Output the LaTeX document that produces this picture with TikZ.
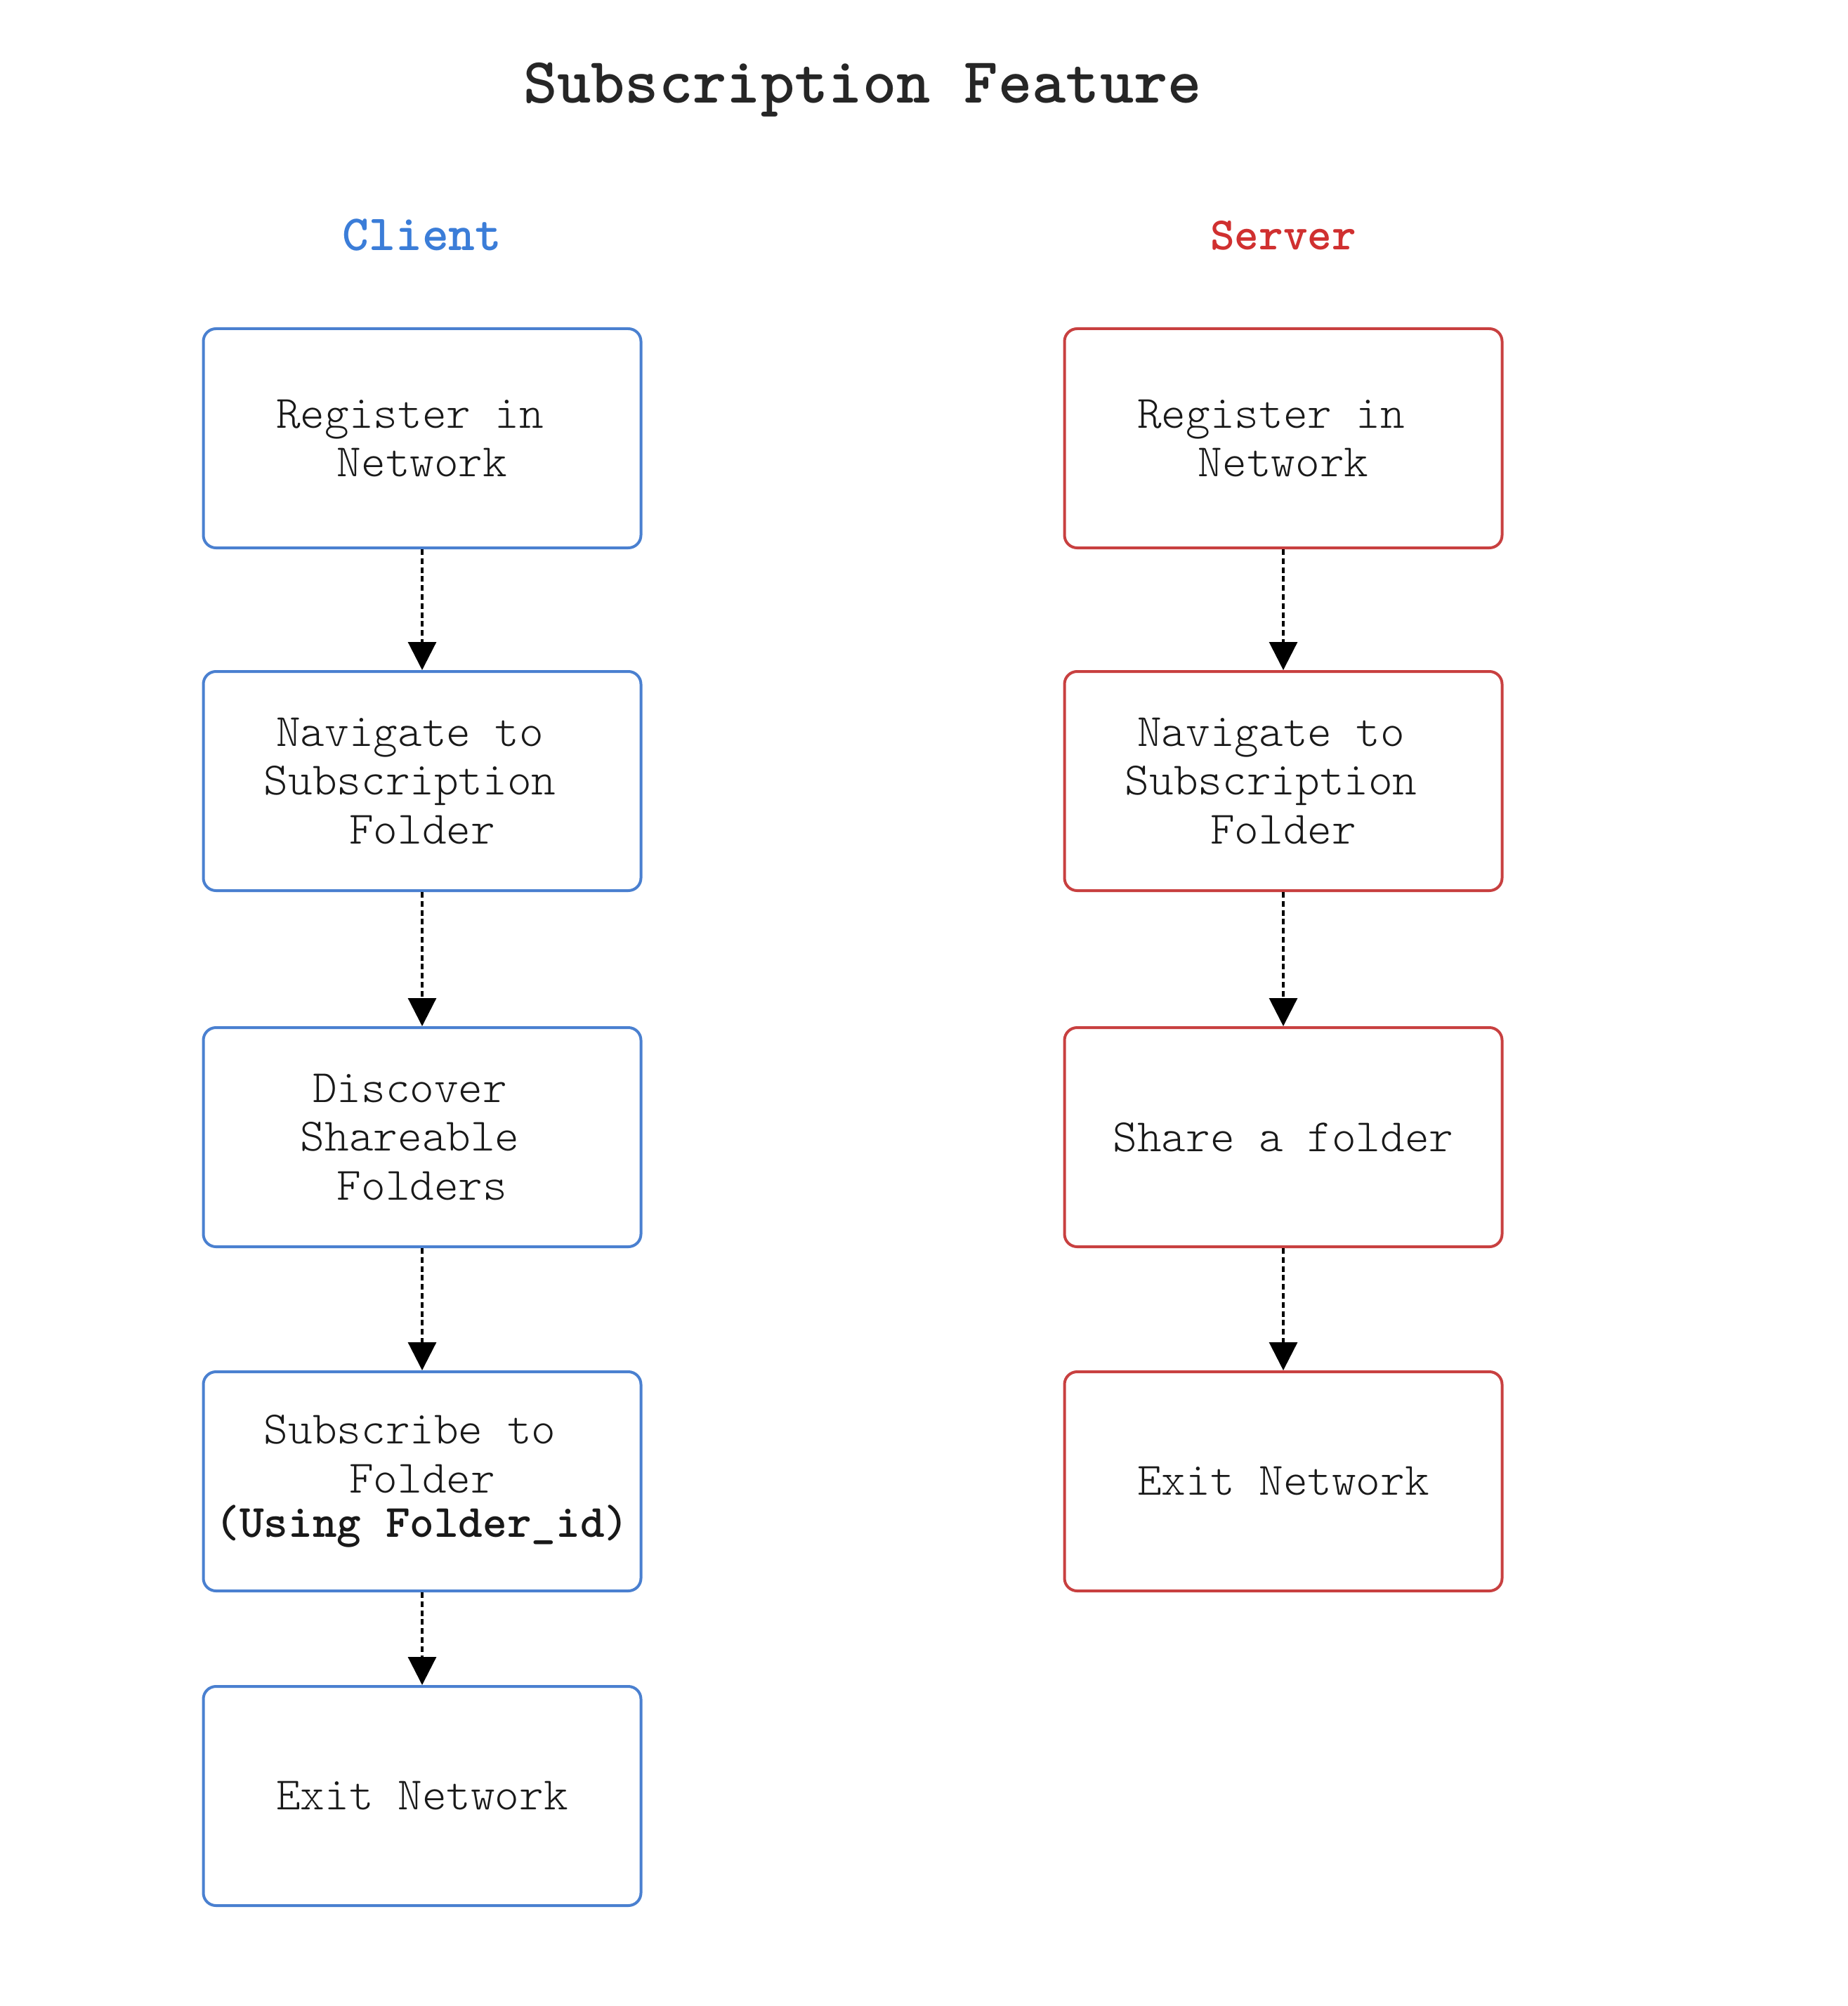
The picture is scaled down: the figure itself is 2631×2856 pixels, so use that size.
\documentclass[tikz,border=0pt]{standalone}
\usetikzlibrary{arrows.meta}
\definecolor{cblue}{HTML}{4A80D0}
\definecolor{cbluetxt}{HTML}{3B7DD8}
\definecolor{cred}{HTML}{C84040}
\definecolor{credtxt}{HTML}{D03030}
\definecolor{ttl}{HTML}{262626}
\newcommand{\tsp}{\hphantom{x}}
\tikzset{
  stepbox/.style={draw, line width=1pt, rounded corners=4.5pt, minimum width=155.75pt, minimum height=78pt,
    align=center, inner sep=0pt, font=\ttfamily\fontseries{l}\fontsize{16.5}{17.3}\selectfont, text=black!90},
  cbox/.style={stepbox, draw=cblue},
  sbox/.style={stepbox, draw=cred},
  flow/.style={draw=black, line width=0.8pt, dash pattern=on 2pt off 1.2pt, -{Triangle[length=10pt,width=10pt]}}
}
\begin{document}
\begin{tikzpicture}[x=0.25pt,y=-0.25pt]
\useasboundingbox (0,0) rectangle (2631,2856);
\node[font=\ttfamily\bfseries\fontsize{23}{26}\selectfont, text=ttl] (title) at (1228,128) {Subscription Feature};
\node[font=\ttfamily\bfseries\fontsize{18}{20}\selectfont, text=cbluetxt] (client) at (601,335) {Client};
\node[font=\ttfamily\bfseries\fontsize{16.5}{20}\selectfont, text=credtxt] (server) at (1827,335) {Server};

\node[cbox] (c1) at (601,624) {Register in\tsp\\Network};
\node[cbox] (c2) at (601,1112) {Navigate to\tsp\\Subscription\tsp\\Folder};
\node[cbox] (c3) at (601,1619) {Discover\tsp\\Shareable\tsp\\Folders};
\node[cbox] (c4) at (601,2109) {Subscribe to\tsp\\Folder\\[-1.5pt]{\fontseries{b}\selectfont(Using Folder\_id)}};
\node[cbox] (c5) at (601,2557) {Exit Network};

\node[sbox] (s1) at (1827,624) {Register in\tsp\\Network};
\node[sbox] (s2) at (1827,1112) {Navigate to\tsp\\Subscription\tsp\\Folder};
\node[sbox] (s3) at (1827,1619) {Share a folder};
\node[sbox] (s4) at (1827,2109) {Exit Network};

\draw[flow] (c1.south) -- (c2.north);
\draw[flow] (c2.south) -- (c3.north);
\draw[flow] (c3.south) -- (c4.north);
\draw[flow] (c4.south) -- (c5.north);
\draw[flow] (s1.south) -- (s2.north);
\draw[flow] (s2.south) -- (s3.north);
\draw[flow] (s3.south) -- (s4.north);
\end{tikzpicture}
\end{document}
